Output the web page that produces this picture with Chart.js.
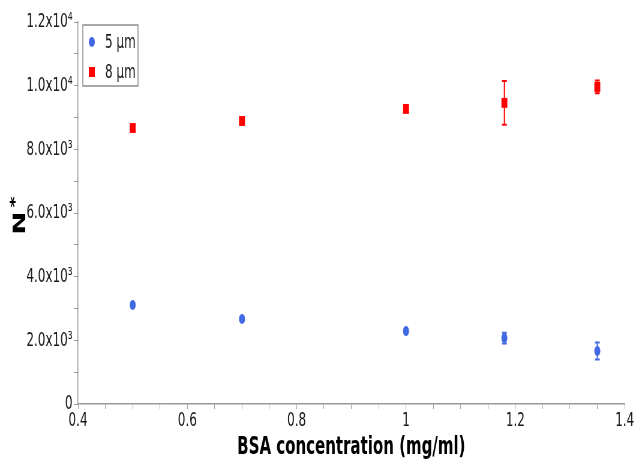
<!DOCTYPE html>
<html>
<head>
<meta charset="utf-8">
<script src="https://cdn.jsdelivr.net/npm/chart.js@4.4.1/dist/chart.umd.min.js"></script>
<style>
    html, body { margin: 0; padding: 0; background: #fff; overflow: hidden; }
    /* chart is laid out wide and squeezed horizontally */
    #wrap { width: 1057px; height: 463px; transform: scaleX(0.6); transform-origin: 0 0; }
</style>
</head>
<body>
<div id="wrap"><canvas id="nChart"></canvas></div>
<script>
var bsaConc = [0.5, 0.7, 1.0, 1.18, 1.35];

var n5um = [3110, 2670, 2290, 2070, 1665];
var n5umErr = [60, 60, 60, 170, 270];

var n8um = [8670, 8890, 9270, 9460, 9960];
var n8umErr = [60, 60, 60, 690, 200];

var seriesLabels = ['5 µm', '8 µm'];
var seriesColors = ['#4169E1', '#FF0000'];

var xTicks = [0.4, 0.6, 0.8, 1.0, 1.2, 1.4];
var xTickLabels = ['0.4', '0.6', '0.8', '1', '1.2', '1.4'];
var yTicks = [0, 2000, 4000, 6000, 8000, 10000, 12000];
var yTickLabels = ['0', '2.0x10³', '4.0x10³', '6.0x10³', '8.0x10³', '1.0x10⁴', '1.2x10⁴'];

var fontName = "'DejaVu Sans', Verdana, sans-serif";
var axisGray = '#9a9a9a';

function pickLabel(value, ticks, labels, tol) {
    for (var i = 0; i < ticks.length; i++) {
        if (Math.abs(ticks[i] - value) < tol) return labels[i];
    }
    return '';
}

function toPoints(xs, ys, errs) {
    return xs.map(function(x, i) { return { x: x, y: ys[i], err: errs[i] }; });
}

// vertical error bars with caps, drawn under the markers
var errorBars = {
    id: 'errorBars',
    beforeDatasetsDraw: function(chart) {
        var ctx = chart.ctx;
        var yScale = chart.scales.y;
        chart.data.datasets.forEach(function(ds, di) {
            var meta = chart.getDatasetMeta(di);
            ctx.save();
            ctx.strokeStyle = ds.borderColor;
            ctx.lineWidth = 2;
            meta.data.forEach(function(pt, i) {
                var d = ds.data[i];
                if (!d.err) return;
                var top = yScale.getPixelForValue(d.y + d.err);
                var bot = yScale.getPixelForValue(d.y - d.err);
                ctx.beginPath();
                ctx.moveTo(pt.x, top);
                ctx.lineTo(pt.x, bot);
                ctx.moveTo(pt.x - 4, top);
                ctx.lineTo(pt.x + 4, top);
                ctx.moveTo(pt.x - 4, bot);
                ctx.lineTo(pt.x + 4, bot);
                ctx.stroke();
            });
            ctx.restore();
        });
    }
};

// boxed legend in the upper left of the plot, plus the rotated N* axis title
var extras = {
    id: 'extras',
    afterDraw: function(chart) {
        var ctx = chart.ctx;
        var area = chart.chartArea;
        ctx.save();

        var bx = area.left + 8, by = area.top + 3;
        ctx.strokeStyle = '#8c8c8c';
        ctx.lineWidth = 1.5;
        ctx.strokeRect(bx, by, 92, 61);

        ctx.font = '20px ' + fontName;
        ctx.textBaseline = 'middle';
        ctx.textAlign = 'left';
        chart.data.datasets.forEach(function(ds, i) {
            var cy = by + 17 + i * 30;
            var cx = bx + 15;
            ctx.fillStyle = ds.backgroundColor;
            ctx.beginPath();
            if (ds.pointStyle === 'rect') {
                ctx.rect(cx - 5, cy - 5, 10, 10);
            } else {
                ctx.arc(cx, cy, 5, 0, Math.PI * 2);
            }
            ctx.fill();
            ctx.fillStyle = '#1a1a1a';
            ctx.fillText(ds.label, bx + 37, cy + 1);
        });

        ctx.translate(35, (area.top + area.bottom) / 2 + 10);
        ctx.rotate(-Math.PI / 2);
        ctx.fillStyle = '#000';
        ctx.textAlign = 'center';
        ctx.textBaseline = 'middle';
        ctx.font = 'bold 28px ' + fontName;
        ctx.fillText('N', 0, 0);
        ctx.font = 'bold 22px ' + fontName;
        ctx.fillText('*', 21, -9);
        ctx.restore();
    }
};

new Chart(document.getElementById('nChart'), {
    type: 'scatter',
    data: {
        datasets: [
            {
                label: seriesLabels[0],
                data: toPoints(bsaConc, n5um, n5umErr),
                pointStyle: 'circle',
                pointRadius: 5,
                backgroundColor: seriesColors[0],
                borderColor: seriesColors[0],
                borderWidth: 0
            },
            {
                label: seriesLabels[1],
                data: toPoints(bsaConc, n8um, n8umErr),
                pointStyle: 'rect',
                pointRadius: 7,
                backgroundColor: seriesColors[1],
                borderColor: seriesColors[1],
                borderWidth: 0
            }
        ]
    },
    plugins: [errorBars, extras],
    options: {
        responsive: true,
        maintainAspectRatio: false,
        animation: false,
        events: [],
        layout: {
            padding: { top: 22, right: 12, bottom: 1, left: 0 }
        },
        plugins: {
            legend: { display: false },
            tooltip: { enabled: false }
        },
        scales: {
            x: {
                type: 'linear',
                min: 0.4,
                max: 1.4,
                afterFit: function(scale) { scale.height = 58; },
                ticks: {
                    stepSize: 0.05,
                    autoSkip: false,
                    maxRotation: 0,
                    padding: 0,
                    color: '#1a1a1a',
                    font: { family: fontName, size: 20 },
                    callback: function(v) { return pickLabel(v, xTicks, xTickLabels, 1e-6); }
                },
                grid: {
                    display: true,
                    drawOnChartArea: false,
                    drawTicks: true,
                    tickLength: 5,
                    color: axisGray
                },
                border: { display: true, color: axisGray, width: 1.5 },
                title: {
                    display: true,
                    text: 'BSA concentration (mg/ml)',
                    color: '#000',
                    font: { family: fontName, size: 25, weight: 'bold' },
                    padding: { top: 0, bottom: 0 }
                }
            },
            y: {
                min: 0,
                max: 12000,
                afterFit: function(scale) { scale.width = 130; },
                ticks: {
                    stepSize: 1000,
                    autoSkip: false,
                    padding: 2,
                    color: '#1a1a1a',
                    font: { family: fontName, size: 20 },
                    callback: function(v) { return pickLabel(v, yTicks, yTickLabels, 1); }
                },
                grid: {
                    display: true,
                    drawOnChartArea: false,
                    drawTicks: true,
                    tickLength: 7,
                    color: axisGray
                },
                border: { display: true, color: axisGray, width: 1.5 }
            }
        }
    }
});
</script>
</body>
</html>
